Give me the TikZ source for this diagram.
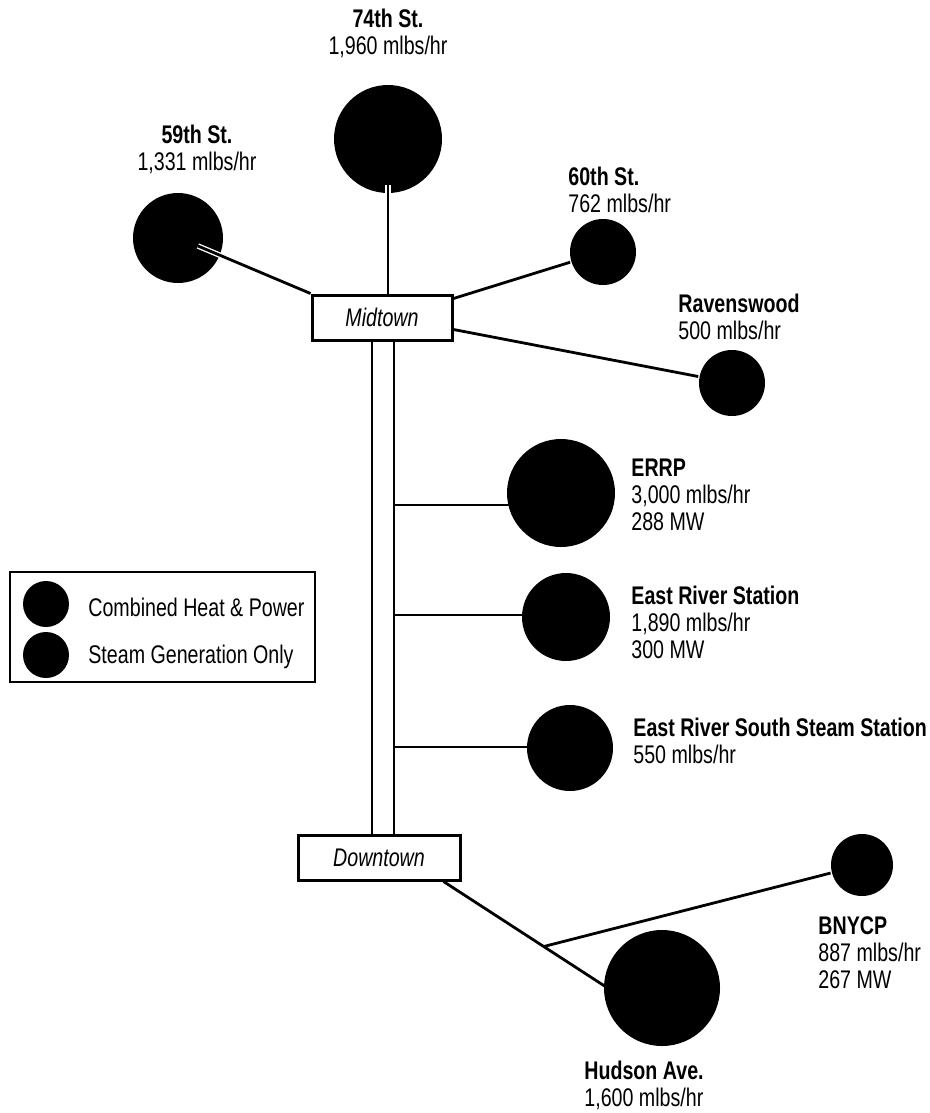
\documentclass[tikz,border=0pt]{standalone}
\usepackage{fontspec}
\setmainfont{Liberation Sans}[FakeStretch=0.77]
\usepackage{tikz}
\usetikzlibrary{calc,positioning,shadows,backgrounds}

\begin{document}
\begin{tikzpicture}
[x=1pt,y=-1pt,line width=2.8pt,
	every node/.style={inner sep=0pt,font=\fontsize{25.5}{27}\selectfont},
	plant/.style={circle,fill=black,minimum size=#1},
	hub/.style={draw,line width=3pt,fill=white,minimum height=45pt,
		font=\fontsize{25.5}{27}\selectfont\itshape,
		general shadow={fill=black,shadow xshift=2pt,shadow yshift=-2pt}},
	info/.style={align=left,anchor=north west},
	pipe/.style={line width=2.8pt},
	tip/.style={pipe,line cap=butt,preaction={draw=white,line width=5.5pt}}]
\useasboundingbox (0,0) rectangle (929,1113);

% plants
\node[plant=108pt] (c74) at (388,139) {};
\node[plant=90pt] (c59) at (178,238) {};
\node[plant=66pt] (c60) at (603,252) {};
\node[plant=66pt] (crav) at (732,383) {};
\node[plant=108pt] (cerrp) at (561,493) {};
\node[plant=88pt] (cers) at (566,617) {};
\node[plant=86pt] (cerss) at (570,748) {};
\node[plant=62pt] (cbny) at (862,865) {};
\node[plant=116pt] (chud) at (662,988) {};

% labels
\node[anchor=north,align=center] (t74) at (388,8) {\textbf{74th St.}\\1,960 mlbs/hr};
\node[anchor=north,align=center] (t59) at (197,124) {\textbf{59th St.}\\1,331 mlbs/hr};
\node[info] (t60) at (567,166) {\textbf{60th St.}\\762 mlbs/hr};
\node[info] (trav) at (677,293) {\textbf{Ravenswood}\\500 mlbs/hr};
\node[info] (terrp) at (630,458) {\textbf{ERRP}\\3,000 mlbs/hr\\288 MW};
\node[info] (ters) at (630,585) {\textbf{East River Station}\\1,890 mlbs/hr\\300 MW};
\node[info] (terss) at (632,717) {\textbf{East River South Steam Station}\\550 mlbs/hr};
\node[info] (tbny) at (817,915) {\textbf{BNYCP}\\887 mlbs/hr\\267 MW};
\node[info] (thud) at (583,1060) {\textbf{Hudson Ave.}\\1,600 mlbs/hr};

% hubs
\node[hub,minimum width=140pt] (midtown) at (382,317.5) {Midtown};
\node[hub,minimum width=162pt] (downtown) at (379,857.5) {Downtown};

\coordinate (trunkL) at ($(midtown.south)+(-10,0)$);
\coordinate (trunkR) at ($(midtown.south)+(12,0)$);
\coordinate (m74) at ($(midtown.north)+(6,0)$);
\coordinate (m60) at ($(midtown.north east)+(0,5)$);
\coordinate (mrav) at ($(midtown.south east)+(0,-12)$);
\coordinate (dstart) at ($(downtown.south east)+(-18,0)$);
\coordinate (hudin) at (640,1009);
\coordinate (fork) at ($(dstart)!0.51!(hudin)$);
\coordinate (tip74) at (388,185);
\coordinate (tip59) at (198,246);

% legend
\draw[line width=2pt] (10,572) rectangle (315,682);
\node[plant=46pt] (lchp) at (46,604) {};
\node[plant=46pt] (lsteam) at (46,655) {};
\node[anchor=west] (tchp) at (87,607) {Combined Heat \& Power};
\node[anchor=west] (tsteam) at (87,657) {Steam Generation Only};

\begin{pgfonlayer}{background}
\fill[white] (0,0) rectangle (929,1113);
\begin{scope}[pipe]
\draw (trunkL) -- (trunkL |- downtown.north);
\draw (trunkR) -- (trunkR |- downtown.north);
\path
\foreach \startNode/\endNode in {m74/c74,midtown.north west/c59,m60/c60,mrav/crav,dstart/hudin,fork/cbny}
{
	(\startNode) edge[pipe] (\endNode)
};
\foreach \plantNode/\dy in {cerrp/12,cers/-2,cerss/-1}
	\draw ($(trunkR |- \plantNode)+(0,\dy)$) -- ($(\plantNode)+(0,\dy)$);
\end{scope}
\end{pgfonlayer}

\draw[tip] (tip74) -- (c74.south);
\draw[tip] (tip59) -- ($(c59.center)!1!(midtown.north west)$) ;
\end{tikzpicture}
\end{document}
